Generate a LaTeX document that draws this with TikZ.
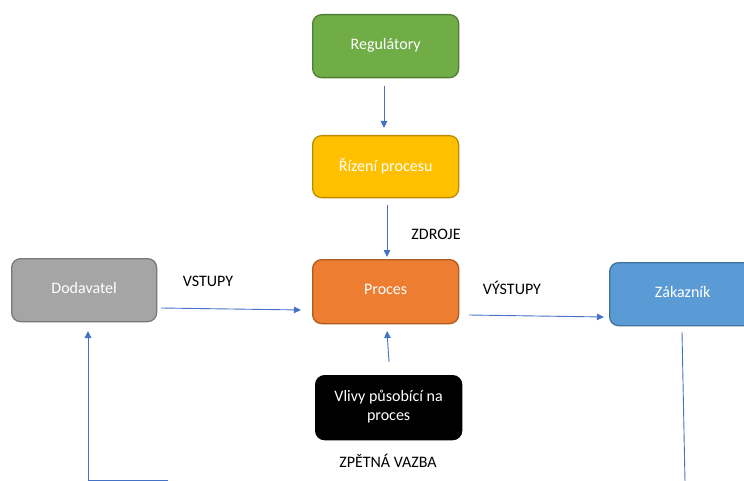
\documentclass[tikz,border=0pt]{standalone}
\usepackage{fontspec}
\setmainfont{Carlito}
\usetikzlibrary{arrows.meta}
\definecolor{grn}{HTML}{70AD47}\definecolor{grnb}{HTML}{507E32}
\definecolor{yel}{HTML}{FFC000}\definecolor{yelb}{HTML}{BC8C00}
\definecolor{org}{HTML}{ED7D31}\definecolor{orgb}{HTML}{AE5A21}
\definecolor{gry}{HTML}{A5A5A5}\definecolor{gryb}{HTML}{787878}
\definecolor{blu}{HTML}{5B9BD5}\definecolor{blub}{HTML}{41719C}
\definecolor{lnk}{HTML}{4472C4}
\tikzset{
  box/.style={rounded corners=9pt, line width=1.3pt, minimum width=146pt,
    minimum height=63pt, text=white, font=\fontsize{16}{19}\selectfont, align=center,
    anchor=north west, inner sep=0pt},
  lbl/.style={font=\fontsize{16}{19}\selectfont, text=black},
  link/.style={draw=lnk, line width=0.9pt, -{Triangle[length=7pt,width=6.5pt]}},
  plain/.style={draw=lnk, line width=0.9pt}
}
\newcommand{\up}[1]{\raisebox{4pt}{#1}}
\begin{document}
\begin{tikzpicture}[x=1pt,y=-1pt]
\useasboundingbox (0,0) rectangle (744,481);
\clip (0,0) rectangle (744,481);
% process boxes
\node[box, fill=grn, draw=grnb] (reg) at (312,14) {\up{Regulátory}};
\node[box, fill=yel, draw=yelb, minimum height=62pt] (riz) at (312,135) {\up{Řízení procesu}};
\node[box, fill=org, draw=orgb, minimum height=64pt] (proc) at (312,259) {\up{Proces}};
\node[box, fill=gry, draw=gryb, minimum width=145pt] (dod) at (11,258) {\up{Dodavatel}};
\node[box, fill=blu, draw=blub] (zak) at (609,262) {\up{Zákazník}};
\node[box, fill=black, draw=black, minimum height=64pt] (vliv) at (315,375)
  {\up{\begin{tabular}{@{}c@{}}Vlivy působící na\\proces\end{tabular}}};
% labels
\node[lbl] (zdroje) at (436,234) {ZDROJE};
\node[lbl] (vstupy) at (208,281) {VSTUPY};
\node[lbl] (vystupy) at (512,288) {VÝSTUPY};
\node[lbl] (zpetna) at (388,461) {ZPĚTNÁ VAZBA};
% connector end points
\coordinate (a1) at (384,86);  \coordinate (a2) at (384,128);
\coordinate (b1) at (387,205); \coordinate (b2) at (387,257);
\coordinate (c1) at (161,308); \coordinate (c2) at (301,310);
\coordinate (d1) at (469,315); \coordinate (d2) at (604,317);
\coordinate (e1) at (389,362); \coordinate (e2) at (387,331);
\coordinate (f1) at (682,332); \coordinate (f2) at (685,482);
\coordinate (g1) at (168,480); \coordinate (g2) at (88,480); \coordinate (g3) at (88,331);
% connectors
\draw[link] (a1) -- (a2);
\draw[link] (b1) -- (b2);
\draw[link] (c1) -- (c2);
\draw[link] (d1) -- (d2);
\draw[link] (e1) -- (e2);
\draw[plain] (f1) -- (f2);
\draw[link] (g1) -- (g2) -- (g3);
\end{tikzpicture}
\end{document}
